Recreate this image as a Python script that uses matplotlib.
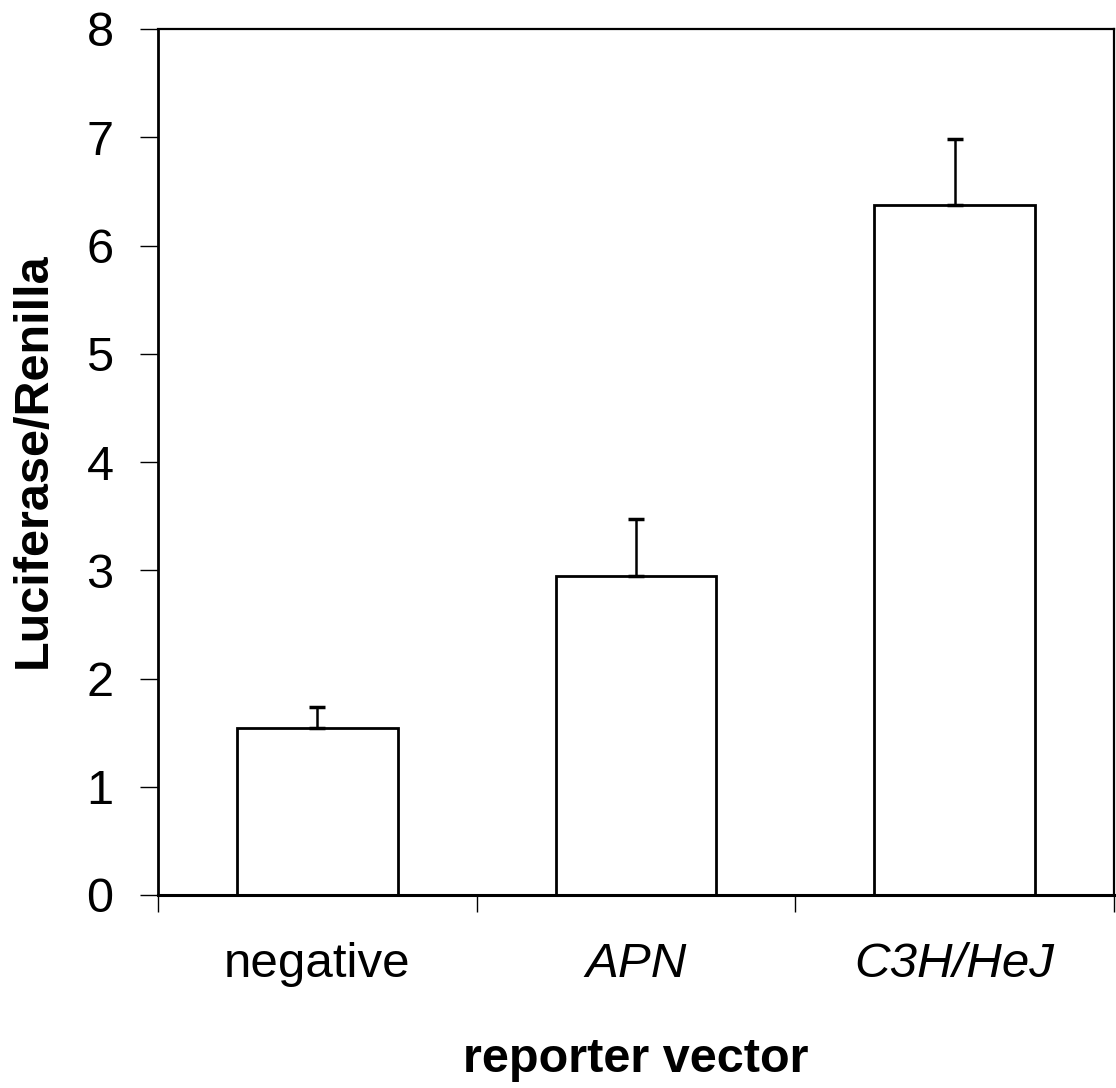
import matplotlib
matplotlib.use("Agg")
import matplotlib.pyplot as plt

categories = ["negative", "APN", "C3H/HeJ"]
values = [1.54, 2.95, 6.37]
errors = [0.20, 0.52, 0.61]
yticks = [0, 1, 2, 3, 4, 5, 6, 7, 8]

plt.rcParams['font.family'] = ['Liberation Sans', 'DejaVu Sans']

W, H = 1116, 1088
fig = plt.figure(figsize=(W / 100, H / 100), dpi=100)
ax = fig.add_axes([158 / W, (H - 895) / H, (1114 - 158) / W, (895 - 29) / H])

x = list(range(len(categories)))
ax.bar(x, values, width=0.505, color='white', edgecolor='black', linewidth=2.0, zorder=2)
ax.errorbar(x, values, yerr=[[0] * len(values), errors], fmt='none', ecolor='black',
            elinewidth=1.8, capsize=6, capthick=2.5, zorder=3)

ax.set_xlim(-0.5, 2.5)
ax.set_ylim(0, 8)
ax.set_yticks(yticks)
ax.set_yticklabels([str(t) for t in yticks])
ax.set_xticks([-0.5, 0.5, 1.5, 2.5])
ax.set_xticklabels([])
ax.set_xticks(x, categories, minor=True)
ax.tick_params(axis='y', direction='out', length=13, width=1, labelsize=35, pad=19)
ax.tick_params(axis='x', which='major', direction='out', length=12, width=1)
ax.tick_params(axis='x', which='minor', length=0, labelsize=35.5, pad=34)
for i, lab in enumerate(ax.get_xticklabels(minor=True)):
    if i > 0:
        lab.set_style('italic')

for s in ax.spines.values():
    s.set_linewidth(1.6)
ax.spines['bottom'].set_linewidth(2.2)
ax.spines['left'].set_linewidth(2.0)

ax.set_ylabel("Luciferase/Renilla", fontsize=35, fontweight='bold')
ax.yaxis.label.set_rotation_mode('default')
ax.yaxis.label.set_va('center')
ax.yaxis.label.set_ha('center')
ax.yaxis.set_label_coords((33 - 158) / 956, (895 - 460) / 866)

ax.set_xlabel("reporter vector", fontsize=35, fontweight='bold')
ax.xaxis.label.set_va('baseline')
ax.xaxis.set_label_coords(0.5, (895 - 1072) / 866)

fig.savefig("out.png", dpi=100, facecolor='white')
